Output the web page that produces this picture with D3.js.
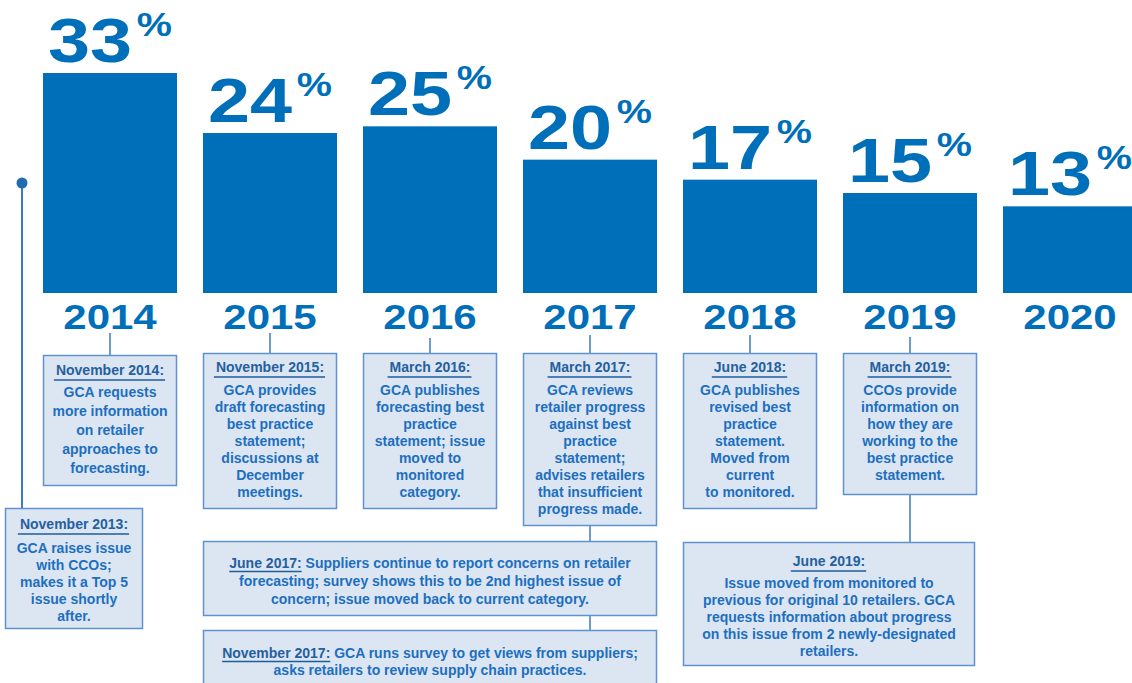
<!DOCTYPE html>
<html>
<head>
<meta charset="utf-8">
<script src="https://cdn.jsdelivr.net/npm/d3@7"></script>
<style>
  body { margin: 0; background: #fff; }
  svg { display: block; }
</style>
</head>
<body>
<div id="chart"></div>
<script>
// Chart data
const years = ['2014', '2015', '2016', '2017', '2018', '2019', '2020'];
const shares = [33, 24, 25, 20, 17, 15, 13];

// Annotation text
const noteHeads = [
  'November 2013:', 'November 2014:', 'November 2015:', 'March 2016:', 'March 2017:',
  'June 2017:', 'November 2017:', 'June 2018:', 'March 2019:', 'June 2019:'
];
const noteBodies = [
  ['GCA raises issue', 'with CCOs;', 'makes it a Top 5', 'issue shortly', 'after.'],
  ['GCA requests', 'more information', 'on retailer', 'approaches to', 'forecasting.'],
  ['GCA provides', 'draft forecasting', 'best practice', 'statement;', 'discussions at', 'December', 'meetings.'],
  ['GCA publishes', 'forecasting best', 'practice', 'statement; issue', 'moved to', 'monitored', 'category.'],
  ['GCA reviews', 'retailer progress', 'against best', 'practice', 'statement;', 'advises retailers', 'that insufficient', 'progress made.'],
  [' Suppliers continue to report concerns on retailer', 'forecasting; survey shows this to be 2nd highest issue of', 'concern; issue moved back to current category.'],
  [' GCA runs survey to get views from suppliers;', 'asks retailers to review supply chain practices.'],
  ['GCA publishes', 'revised best', 'practice', 'statement.', 'Moved from', 'current', 'to monitored.'],
  ['CCOs provide', 'information on', 'how they are', 'working to the', 'best practice', 'statement.'],
  ['Issue moved from monitored to', 'previous for original 10 retailers. GCA', 'requests information about progress', 'on this issue from 2 newly-designated', 'retailers.']
];

// Box placement (kept apart from the data above)
const noteLayout = [
  { x0: 5, x1: 143, top: 508, bottom: 629, headY: 21, bodyY: 45, lh: 17 },
  { from: '2014', top: 355, bottom: 486, headY: 20, bodyY: 42, lh: 19 },
  { from: '2015', top: 353, bottom: 509, headY: 19, bodyY: 42, lh: 17 },
  { from: '2016', top: 353, bottom: 509, headY: 19, bodyY: 42, lh: 17 },
  { from: '2017', top: 353, bottom: 526, headY: 19, bodyY: 42, lh: 17 },
  { from: '2015', to: '2017', top: 541, bottom: 616, inline: true, bodyY: 27, lh: 18 },
  { from: '2015', to: '2017', top: 630, bottom: 700, inline: true, bodyY: 28, lh: 17 },
  { from: '2018', top: 353, bottom: 509, headY: 19, bodyY: 42, lh: 17 },
  { from: '2019', top: 353, bottom: 495, headY: 19, bodyY: 42, lh: 17 },
  { from: '2018', to: '2019', top: 542, bottom: 666, headY: 24, bodyY: 46, lh: 17, right: 975 }
];

const W = 1132, H = 683;
const blue = '#006fba';
const headColor = '#24609e';
const bodyColor = '#1d6fbf';
const lineColor = '#3b7dc2';
const numFont = '"Liberation Sans", Arial, sans-serif';
const noteFont = '"Liberation Sans", Arial, sans-serif';
const stretch = 1.2; // the big figures are drawn wide

const svg = d3.select('#chart')
  .append('svg')
  .attr('width', W)
  .attr('height', H);

// Scales
const x = d3.scaleBand()
  .domain(years)
  .range([43, 43 + 160 * 7 - 26])
  .paddingInner(26 / 160)
  .paddingOuter(0);

const y = d3.scaleLinear()
  .domain([0, 33])
  .range([293, 73]);

const data = years.map((yr, i) => ({ year: yr, value: shares[i] }));

// Bars
svg.selectAll('.bar')
  .data(data)
  .enter()
  .append('rect')
  .attr('class', 'bar')
  .attr('x', d => x(d.year))
  .attr('y', d => y(d.value))
  .attr('width', x.bandwidth())
  .attr('height', d => y(0) - y(d.value))
  .attr('fill', blue);

// Value labels with raised percent sign
const vl = svg.selectAll('.val')
  .data(data)
  .enter()
  .append('text')
  .attr('class', 'val')
  .attr('transform', d => `translate(${x(d.year) + x.bandwidth() / 2},${y(d.value) - 11}) scale(${stretch},1)`)
  .attr('text-anchor', 'middle')
  .attr('font-family', numFont)
  .attr('font-weight', 'bold')
  .attr('fill', blue);

vl.append('tspan')
  .attr('font-size', 63)
  .text(d => d.value);

vl.append('tspan')
  .attr('font-size', 33)
  .attr('dx', 4)
  .attr('dy', -26)
  .text('%');

// Year labels
svg.append('g')
  .attr('transform', 'translate(0,329)')
  .call(d3.axisBottom(x).tickSize(0).tickPadding(0))
  .call(g => g.select('.domain').remove())
  .selectAll('text')
  .attr('dy', 0)
  .attr('y', 0)
  .attr('transform', `scale(${stretch},1)`)
  .attr('font-family', numFont)
  .attr('font-weight', 'bold')
  .attr('font-size', 35)
  .attr('fill', blue);

// Timeline start marker
svg.append('line')
  .attr('x1', 22).attr('x2', 22)
  .attr('y1', 183).attr('y2', 508)
  .attr('stroke', lineColor)
  .attr('stroke-width', 2);
svg.append('circle')
  .attr('cx', 22).attr('cy', 183)
  .attr('r', 5.5)
  .attr('fill', '#1f6cb2');

// Connectors
const mid = yr => x(yr) + x.bandwidth() / 2;
const connectors = [
  ['2014', 333, 355], ['2015', 333, 353], ['2016', 338, 353], ['2017', 335, 353],
  ['2018', 335, 353], ['2019', 337, 353],
  ['2017', 526, 541], ['2017', 616, 630], ['2019', 495, 542]
];
svg.selectAll('.conn')
  .data(connectors)
  .enter()
  .append('line')
  .attr('class', 'conn')
  .attr('x1', d => mid(d[0])).attr('x2', d => mid(d[0]))
  .attr('y1', d => d[1]).attr('y2', d => d[2])
  .attr('stroke', lineColor)
  .attr('stroke-width', 1.5);

// Annotation boxes
noteLayout.forEach((L, i) => {
  const left = L.from ? x(L.from) : L.x0;
  const right = L.right ? L.right : (L.from ? x(L.to || L.from) + x.bandwidth() : L.x1);
  const cx = (left + right) / 2;
  const g = svg.append('g');

  g.append('rect')
    .attr('x', left + 0.5)
    .attr('y', L.top + 0.5)
    .attr('width', right - left - 1)
    .attr('height', L.bottom - L.top - 1)
    .attr('fill', '#dce6f2')
    .attr('stroke', '#5f93cf')
    .attr('stroke-width', 1.5);

  const lines = noteBodies[i];

  if (L.inline) {
    // first line carries the underlined heading
    lines.forEach((ln, j) => {
      const t = g.append('text')
        .attr('x', cx)
        .attr('y', L.top + L.bodyY + j * L.lh)
        .attr('text-anchor', 'middle')
        .attr('font-family', noteFont)
        .attr('font-weight', 'bold')
        .attr('font-size', 14);
      if (j === 0) {
        const hs = t.append('tspan').attr('fill', headColor).text(noteHeads[i]);
        t.append('tspan').attr('fill', bodyColor).text(ln);
        const total = t.node().getComputedTextLength();
        const hw = hs.node().getComputedTextLength();
        const sx = cx - total / 2;
        g.append('line')
          .attr('x1', sx).attr('x2', sx + hw)
          .attr('y1', L.top + L.bodyY + 3.5).attr('y2', L.top + L.bodyY + 3.5)
          .attr('stroke', '#1f5c9c')
          .attr('stroke-width', 1.6);
      } else {
        t.attr('fill', bodyColor).text(ln);
      }
    });
  } else {
    const h = g.append('text')
      .attr('x', cx)
      .attr('y', L.top + L.headY)
      .attr('text-anchor', 'middle')
      .attr('font-family', noteFont)
      .attr('font-weight', 'bold')
      .attr('font-size', 14)
      .attr('fill', headColor)
      .text(noteHeads[i]);
    const hw = h.node().getComputedTextLength();
    g.append('line')
      .attr('x1', cx - hw / 2 - 2).attr('x2', cx + hw / 2 + 1)
      .attr('y1', L.top + L.headY + 5).attr('y2', L.top + L.headY + 5)
      .attr('stroke', '#1f5c9c')
      .attr('stroke-width', 1.6);

    g.selectAll('.body')
      .data(lines)
      .enter()
      .append('text')
      .attr('x', cx)
      .attr('y', (d, j) => L.top + L.bodyY + j * L.lh)
      .attr('text-anchor', 'middle')
      .attr('font-family', noteFont)
      .attr('font-weight', 'bold')
      .attr('font-size', 14)
      .attr('fill', bodyColor)
      .text(d => d);
  }
});
</script>
</body>
</html>
